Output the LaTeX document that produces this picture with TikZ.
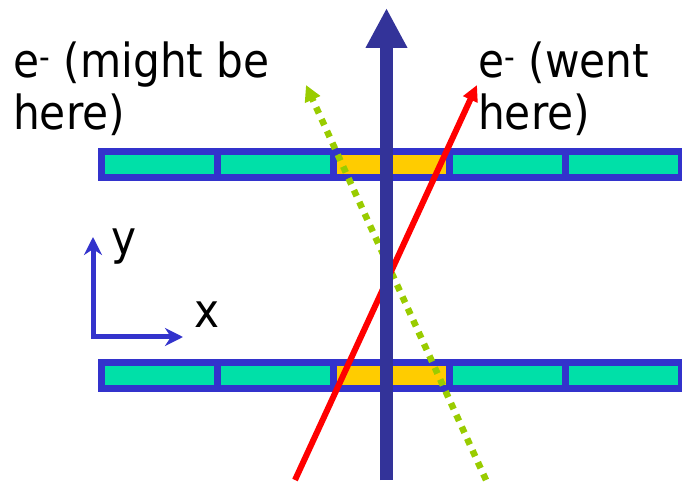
\documentclass[tikz,border=0pt]{standalone}
\usepackage{fontspec}
\newfontfamily\lblfont{DejaVu Sans Condensed}
\usetikzlibrary{arrows.meta}
\definecolor{pblue}{HTML}{3333CC}
\definecolor{pnavy}{HTML}{333399}
\definecolor{pteal}{HTML}{00E0A8}
\definecolor{porange}{HTML}{FFCC00}
\definecolor{pred}{HTML}{FF0000}
\definecolor{pgreen}{HTML}{99CC00}

\begin{document}
\begin{tikzpicture}[
  x=1pt,y=1pt,
  cell/.style={draw=pblue,line width=7pt,minimum width=116pt,minimum height=26pt,inner sep=0pt},
  lbl/.style={font=\lblfont\fontsize{47}{52}\selectfont,inner sep=0pt,align=left},
  axis/.style={draw=pblue,line width=5pt,{Stealth[length=18pt,width=18pt]}-{Stealth[length=18pt,width=18pt]}},
  track/.style={draw=pnavy,line width=13pt,-{Triangle[length=40pt,width=39pt]}},
  went/.style={draw=pred,line width=6pt,-{Triangle[length=16pt,width=15pt]}},
  might/.style={draw=pgreen,line width=6.5pt,dash pattern=on 6.5pt off 6.5pt,-{Triangle[length=16pt,width=16pt]}}
]
\useasboundingbox (0,0) rectangle (682,482);

% the two detector strips, five cells each, the hit cell in the middle
\foreach \i/\c in {1/pteal,2/pteal,3/porange,4/pteal,5/pteal}{
  \node[cell,fill=\c] (t\i) at ({159+116*(\i-1)},317.5) {};
  \node[cell,fill=\c] (b\i) at ({159+116*(\i-1)},106.5) {};
}

% axes
\coordinate (orig) at (93,145);
\coordinate (xend) at (183,145);
\coordinate (yend) at (93,245);
\draw[axis] (xend) -- (orig) -- (yend);
\node[lbl,anchor=base west] (ylbl) at (111,227) {y};
\node[lbl,anchor=base west] (xlbl) at (194,154) {x};

% tracks
\coordinate (gstart) at (486,2);
\coordinate (gend) at (306,397);
\coordinate (rstart) at (295,2);
\coordinate (rend) at (477,397);
\coordinate (vstart) at (386.5,2);
\coordinate (vend) at (386.5,474);
\draw[might] (gstart) -- (gend);
\draw[went] (rstart) -- (rend);
\draw[track] (vstart) -- (vend);

\node[lbl,anchor=base west] (mightlbl) at (13,352) {e\textsuperscript{-} (might be\\here)};
\node[lbl,anchor=base west] (wentlbl) at (478,352) {e\textsuperscript{-} (went\\here)};
\end{tikzpicture}
\end{document}
